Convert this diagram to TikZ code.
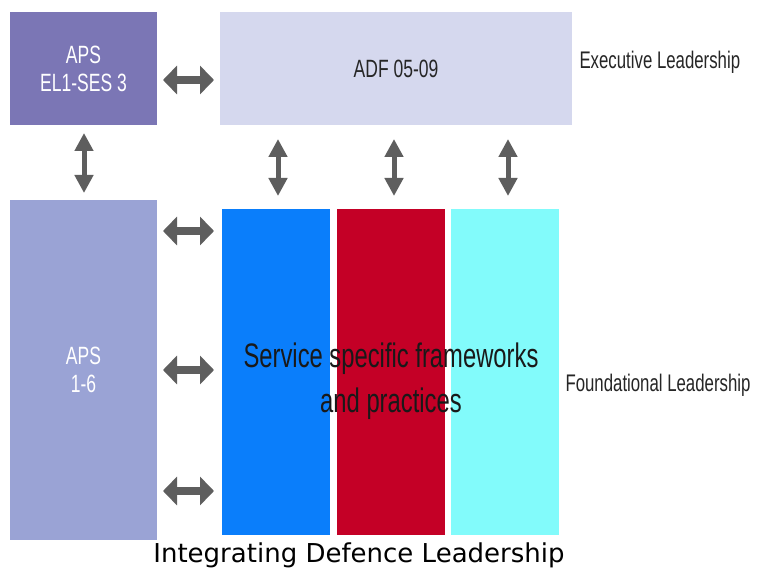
\documentclass[tikz,border=0pt]{standalone}
\usepackage{fontspec}
\setmainfont{Liberation Sans}
\newfontfamily\narrowfont[FakeStretch=0.70]{Liberation Sans}
\newfontfamily\captionfont{DejaVu Sans}
\usetikzlibrary{arrows.meta}
\definecolor{apstop}{HTML}{7B76B5}
\definecolor{adfbox}{HTML}{D5D8EE}
\definecolor{apslow}{HTML}{9AA3D5}
\definecolor{svcblue}{HTML}{0A7EFB}
\definecolor{svcred}{HTML}{C40026}
\definecolor{svccyan}{HTML}{82FBFB}
\definecolor{arrgray}{HTML}{5E5E5E}
\tikzset{
  blok/.style={anchor=north west,inner sep=0pt,outer sep=0pt,draw=none},
  hdbl/.style={arrgray,line width=8pt,{Triangle[length=14pt,width=28pt]}-{Triangle[length=14pt,width=28pt]}},
  vdbl/.style={arrgray,line width=5pt,{Triangle[length=18pt,width=18pt]}-{Triangle[length=18pt,width=18pt]}},
  lbl/.style={font=\narrowfont\fontsize{25}{28}\selectfont,align=center,text=white},
  side/.style={font=\narrowfont\fontsize{24}{28}\selectfont,anchor=west,text=black!85}
}
\begin{document}
\begin{tikzpicture}[x=1pt,y=-1pt]
\useasboundingbox[fill=white] (0,0) rectangle (763,572);

% top row
\node[blok,fill=apstop,minimum width=147pt,minimum height=113pt] (apsel) at (10,12) {};
\node[lbl] at (apsel.center) {APS\\EL1-SES 3};
\node[blok,fill=adfbox,minimum width=352pt,minimum height=113pt] (adf) at (220,12) {};
\node[lbl,text=black!85] at (adf.center) {ADF 05-09};
\node[side] (exec) at (576,62) {Executive Leadership};

% bottom row
\node[blok,fill=apslow,minimum width=147pt,minimum height=340pt] (aps) at (10,200) {};
\node[lbl] at (aps.center) {APS\\1-6};
\node[blok,fill=svcblue,minimum width=108pt,minimum height=326pt] (blue) at (222,209) {};
\node[blok,fill=svcred,minimum width=108pt,minimum height=326pt] (red) at (337,209) {};
\node[blok,fill=svccyan,minimum width=108pt,minimum height=326pt] (cyan) at (451,209) {};
\node[font=\narrowfont\fontsize{34}{45}\selectfont,align=center,text=black!90] (svc) at (391,381)
  {Service specific frameworks\\and practices};
\node[side] (found) at (562,385) {Foundational Leadership};

% arrows
\coordinate (h1a) at (163,80);  \coordinate (h1b) at (214,80);
\draw[hdbl] (h1a) -- (h1b);
\coordinate (v1a) at (84,133);  \coordinate (v1b) at (84,193);
\draw[vdbl] (v1a) -- (v1b);
\foreach \xx/\nm in {278/a,394/b,508/c}{
  \coordinate (vt\nm) at (\xx,139);
  \coordinate (vb\nm) at (\xx,196);
  \draw[vdbl] (vt\nm) -- (vb\nm);
}
\foreach \yy/\nm in {231/a,370/b,491/c}{
  \coordinate (hl\nm) at (163,\yy);
  \coordinate (hr\nm) at (214,\yy);
  \draw[hdbl] (hl\nm) -- (hr\nm);
}

% caption
\node[font=\captionfont\fontsize{26}{30}\selectfont] (cap) at (359,555) {Integrating Defence Leadership};
\end{tikzpicture}
\end{document}
